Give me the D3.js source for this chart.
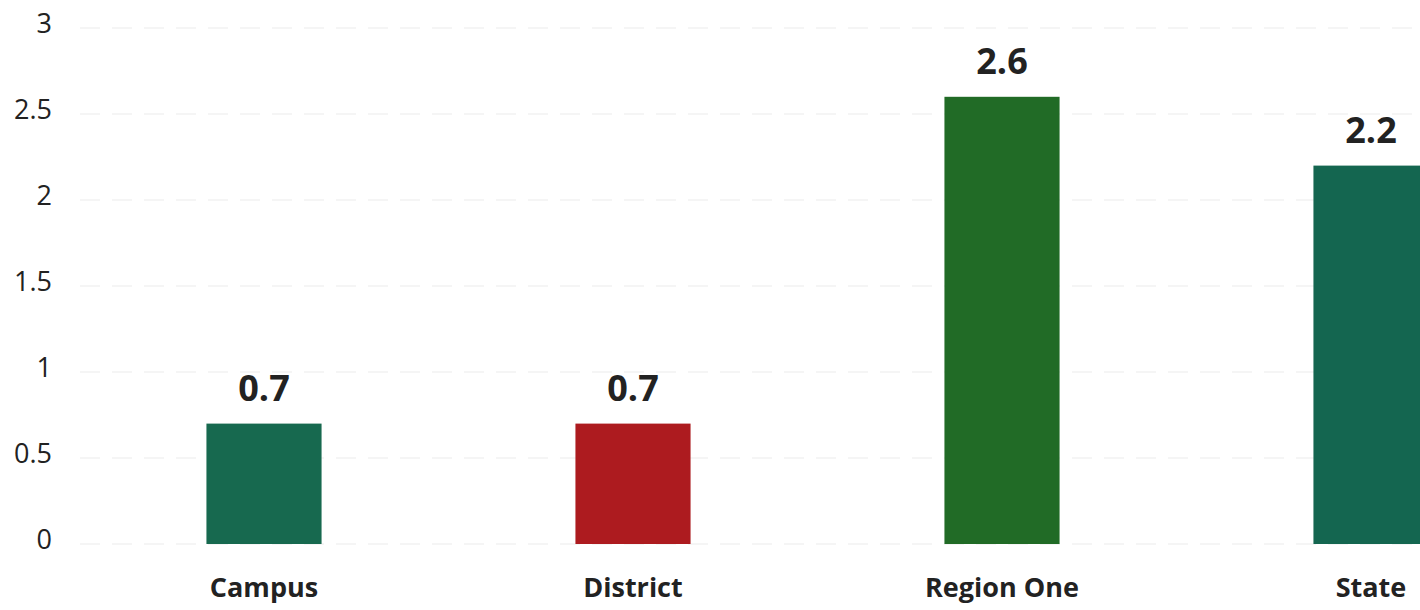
<!DOCTYPE html>
<html><head><meta charset="utf-8">
<script src="https://cdn.jsdelivr.net/npm/d3@7"></script>
<style>body{margin:0;background:#fff;}svg{display:block;}</style>
</head><body>
<svg id="c" width="1420" height="610"></svg>
<script>
const categories = ["Campus", "District", "Region One", "State"];
const values = [0.7, 0.7, 2.6, 2.2];
const colors = ["#17694f", "#ad1b1f", "#216b26", "#146650"];
const yTicks = [0, 0.5, 1, 1.5, 2, 2.5, 3];

const svg = d3.select("#c");
const font = "'Open Sans', sans-serif";
const y = d3.scaleLinear().domain([0, 3]).range([544, 28]);
const x = d3.scaleBand().domain(categories).range([79.5, 1555.5])
  .paddingInner(0.688).paddingOuter(0.344);

// faint gridlines
svg.append("g").selectAll("line").data(yTicks).join("line")
  .attr("x1", 80).attr("x2", 1420)
  .attr("y1", d => y(d)).attr("y2", d => y(d))
  .attr("stroke", "#f5f5f5").attr("stroke-width", 2).attr("stroke-dasharray", "20 12");

// y axis labels
const yAxis = d3.axisLeft(y).tickValues(yTicks).tickSize(0).tickPadding(0).tickFormat(d3.format("~g"));
const ga = svg.append("g").attr("transform", "translate(52,-4)").call(yAxis);
ga.select(".domain").remove();
ga.selectAll("text").attr("font-family", font).attr("font-size", 27).attr("fill", "#222");

// bars
svg.append("g").selectAll("rect").data(values).join("rect")
  .attr("x", (d, i) => x(categories[i]))
  .attr("width", x.bandwidth())
  .attr("y", d => y(d))
  .attr("height", d => y(0) - y(d))
  .attr("fill", (d, i) => colors[i]);

// value labels
svg.append("g").selectAll("text").data(values).join("text")
  .attr("x", (d, i) => x(categories[i]) + x.bandwidth() / 2)
  .attr("y", d => y(d) - 23)
  .attr("text-anchor", "middle")
  .attr("font-family", font).attr("font-weight", "bold").attr("font-size", 36)
  .attr("fill", "#222")
  .text(d => d3.format(".1f")(d));

// category labels
svg.append("g").selectAll("text").data(categories).join("text")
  .attr("x", d => x(d) + x.bandwidth() / 2)
  .attr("y", 597)
  .attr("text-anchor", "middle")
  .attr("font-family", font).attr("font-weight", "bold").attr("font-size", 27)
  .attr("fill", "#222")
  .text(d => d);
</script>
</body></html>
